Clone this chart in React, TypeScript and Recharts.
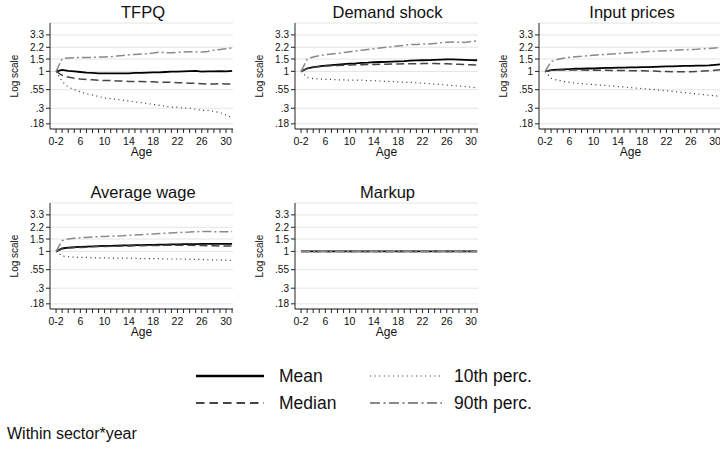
import React from 'react';
import { LineChart, Line, XAxis, YAxis, CartesianGrid, Label } from 'recharts';

const FONT = '"Liberation Sans", Arial, Helvetica, sans-serif';

const AGES = [2, 3, 4, 5, 6, 7, 8, 9, 10, 11, 12, 13, 14, 15, 16, 17, 18, 19, 20, 21, 22, 23, 24, 25, 26, 27, 28, 29, 30, 31];
const LABELED_AGES = [2, 6, 10, 14, 18, 22, 26, 30];
const AGE_LABELS = ['0-2', '6', '10', '14', '18', '22', '26', '30'];
const Y_TICKS = [0.18, 0.3, 0.55, 1, 1.5, 2.2, 3.3];
const Y_TICK_LABELS = ['.18', '.3', '.55', '1', '1.5', '2.2', '3.3'];

const TFPQ_MEAN = [1, 1.05, 1.02, 1.0, 0.98, 0.96, 0.95, 0.94, 0.94, 0.94, 0.94, 0.94, 0.94, 0.95, 0.95, 0.96, 0.97, 0.97, 0.98, 0.99, 0.99, 1.0, 1.01, 1.02, 0.99, 1.0, 1.0, 1.01, 1.0, 1.02];
const TFPQ_MEDIAN = [1, 0.88, 0.83, 0.8, 0.78, 0.77, 0.76, 0.75, 0.74, 0.74, 0.73, 0.73, 0.72, 0.72, 0.72, 0.71, 0.71, 0.7, 0.7, 0.7, 0.69, 0.69, 0.68, 0.68, 0.67, 0.66, 0.66, 0.67, 0.66, 0.66];
const TFPQ_P10 = [1, 0.72, 0.6, 0.55, 0.51, 0.48, 0.46, 0.44, 0.42, 0.41, 0.4, 0.39, 0.38, 0.37, 0.36, 0.35, 0.34, 0.33, 0.32, 0.31, 0.31, 0.3, 0.3, 0.29, 0.28, 0.28, 0.27, 0.26, 0.24, 0.22];
const TFPQ_P90 = [1, 1.52, 1.55, 1.57, 1.57, 1.58, 1.58, 1.6, 1.6, 1.62, 1.65, 1.68, 1.72, 1.74, 1.76, 1.78, 1.82, 1.88, 1.84, 1.84, 1.86, 1.88, 1.9, 1.9, 1.88, 1.92, 2.0, 2.05, 2.1, 2.15];

const DEMAND_MEAN = [1, 1.1, 1.15, 1.18, 1.21, 1.23, 1.25, 1.27, 1.29, 1.3, 1.32, 1.33, 1.35, 1.36, 1.37, 1.38, 1.39, 1.4, 1.42, 1.43, 1.44, 1.45, 1.46, 1.47, 1.48, 1.48, 1.47, 1.46, 1.45, 1.44];
const DEMAND_MEDIAN = [1, 1.1, 1.14, 1.17, 1.19, 1.2, 1.21, 1.22, 1.23, 1.24, 1.24, 1.25, 1.25, 1.26, 1.26, 1.27, 1.27, 1.28, 1.28, 1.28, 1.29, 1.29, 1.29, 1.28, 1.28, 1.27, 1.26, 1.25, 1.24, 1.23];
const DEMAND_P10 = [1, 0.82, 0.79, 0.78, 0.77, 0.77, 0.76, 0.76, 0.75, 0.75, 0.75, 0.74, 0.74, 0.73, 0.72, 0.72, 0.71, 0.7, 0.7, 0.69, 0.68, 0.67, 0.66, 0.65, 0.64, 0.63, 0.62, 0.61, 0.6, 0.58];
const DEMAND_P90 = [1, 1.5, 1.6, 1.67, 1.72, 1.77, 1.8, 1.85, 1.9, 1.95, 2.0, 2.05, 2.1, 2.15, 2.2, 2.25, 2.3, 2.35, 2.4, 2.42, 2.45, 2.45, 2.5, 2.55, 2.6, 2.62, 2.6, 2.58, 2.65, 2.72];

const INPUT_MEAN = [1, 1.04, 1.06, 1.07, 1.08, 1.09, 1.09, 1.1, 1.1, 1.11, 1.12, 1.12, 1.13, 1.13, 1.14, 1.14, 1.15, 1.15, 1.16, 1.17, 1.18, 1.18, 1.19, 1.2, 1.2, 1.21, 1.21, 1.22, 1.24, 1.26];
const INPUT_MEDIAN = [1, 1.04, 1.05, 1.05, 1.05, 1.05, 1.05, 1.04, 1.04, 1.04, 1.04, 1.03, 1.03, 1.03, 1.02, 1.02, 1.02, 1.01, 1.01, 1.0, 1.0, 0.99, 0.99, 0.99, 0.99, 1.0, 1.01, 1.02, 1.04, 1.06];
const INPUT_P10 = [1, 0.8, 0.75, 0.72, 0.7, 0.68, 0.67, 0.66, 0.65, 0.64, 0.63, 0.62, 0.61, 0.6, 0.59, 0.58, 0.57, 0.56, 0.55, 0.54, 0.53, 0.52, 0.51, 0.5, 0.49, 0.48, 0.47, 0.46, 0.45, 0.44];
const INPUT_P90 = [1, 1.38, 1.48, 1.54, 1.58, 1.62, 1.64, 1.67, 1.7, 1.72, 1.75, 1.77, 1.79, 1.82, 1.84, 1.86, 1.89, 1.91, 1.93, 1.95, 1.97, 1.99, 2.01, 2.03, 2.05, 2.07, 2.1, 2.12, 2.15, 2.17];

const WAGE_MEAN = [1, 1.1, 1.13, 1.15, 1.16, 1.17, 1.18, 1.19, 1.2, 1.2, 1.21, 1.22, 1.22, 1.23, 1.23, 1.24, 1.24, 1.25, 1.25, 1.26, 1.26, 1.27, 1.27, 1.27, 1.28, 1.28, 1.28, 1.28, 1.28, 1.28];
const WAGE_MEDIAN = [1, 1.09, 1.12, 1.13, 1.14, 1.15, 1.16, 1.17, 1.17, 1.18, 1.18, 1.19, 1.19, 1.2, 1.2, 1.21, 1.21, 1.21, 1.22, 1.22, 1.22, 1.22, 1.22, 1.21, 1.21, 1.2, 1.2, 1.19, 1.19, 1.19];
const WAGE_P10 = [1, 0.86, 0.84, 0.83, 0.82, 0.82, 0.81, 0.81, 0.81, 0.8, 0.8, 0.8, 0.8, 0.8, 0.79, 0.79, 0.79, 0.79, 0.78, 0.78, 0.78, 0.78, 0.77, 0.77, 0.77, 0.76, 0.76, 0.75, 0.75, 0.74];
const WAGE_P90 = [1, 1.42, 1.5, 1.54, 1.56, 1.58, 1.6, 1.62, 1.63, 1.64, 1.66, 1.67, 1.69, 1.71, 1.73, 1.75, 1.77, 1.79, 1.81, 1.83, 1.85, 1.87, 1.88, 1.9, 1.92, 1.92, 1.91, 1.9, 1.9, 1.92];

const MARKUP_MEAN = [1, 1, 1, 1, 1, 1, 1, 1, 1, 1, 1, 1, 1, 1, 1, 1, 1, 1, 1, 1, 1, 1, 1, 1, 1, 1, 1, 1, 1, 1];
const MARKUP_MEDIAN = [1, 1, 1, 1, 1, 1, 1, 1, 1, 1, 1, 1, 1, 1, 1, 1, 1, 1, 1, 1, 1, 1, 1, 1, 1, 1, 1, 1, 1, 1];
const MARKUP_P10 = [1, 1, 1, 1, 1, 1, 1, 1, 1, 1, 1, 1, 1, 1, 1, 1, 1, 1, 1, 1, 1, 1, 1, 1, 1, 1, 1, 1, 1, 1];
const MARKUP_P90 = [1, 1, 1, 1, 1, 1, 1, 1, 1, 1, 1, 1, 1, 1, 1, 1, 1, 1, 1, 1, 1, 1, 1, 1, 1, 1, 1, 1, 1, 1];

const SERIES = [
  { key: 'mean', name: 'Mean', color: '#000000', width: 1.8, dash: undefined as string | undefined, legendDash: undefined as string | undefined, legendWidth: 2.4 },
  { key: 'median', name: 'Median', color: '#454545', width: 1.5, dash: '8 4', legendDash: '8.5 5', legendWidth: 2.2 },
  { key: 'p10', name: '10th perc.', color: '#303030', width: 1.2, dash: '1 3.5', legendDash: '1 3.6', legendWidth: 1.2 },
  { key: 'p90', name: '90th perc.', color: '#8a8a8a', width: 1.5, dash: '9 3 2 3', legendDash: '10 3.5 2 3.5', legendWidth: 2.2 },
];

const PANELS = [
  { title: 'TFPQ', row: 0, col: 0, mean: TFPQ_MEAN, median: TFPQ_MEDIAN, p10: TFPQ_P10, p90: TFPQ_P90 },
  { title: 'Demand shock', row: 0, col: 1, mean: DEMAND_MEAN, median: DEMAND_MEDIAN, p10: DEMAND_P10, p90: DEMAND_P90 },
  { title: 'Input prices', row: 0, col: 2, mean: INPUT_MEAN, median: INPUT_MEDIAN, p10: INPUT_P10, p90: INPUT_P90 },
  { title: 'Average wage', row: 1, col: 0, mean: WAGE_MEAN, median: WAGE_MEDIAN, p10: WAGE_P10, p90: WAGE_P90 },
  { title: 'Markup', row: 1, col: 1, mean: MARKUP_MEAN, median: MARKUP_MEDIAN, p10: MARKUP_P10, p90: MARKUP_P90 },
];

const PANEL_W = 240;
const PANEL_H = 160;
const COL_STEP = 244.5;
const ROW_STEP = 180;

const XTick = (props: any) => {
  const { x, y, payload } = props;
  const idx = LABELED_AGES.indexOf(payload.value);
  if (idx < 0) return <g />;
  return (
    <text x={x} y={y} dy="0.71em" textAnchor="middle" fontSize={10.5} fill="#111" fontFamily={FONT}>
      {AGE_LABELS[idx]}
    </text>
  );
};

const yFmt = (v: number) => {
  const i = Y_TICKS.indexOf(v);
  return i >= 0 ? Y_TICK_LABELS[i] : String(v);
};

const Panel = ({ p }: { p: any }) => {
  const data = AGES.map((age, i) => ({ age, mean: p.mean[i], median: p.median[i], p10: p.p10[i], p90: p.p90[i] }));
  return (
    <div style={{ position: 'absolute', left: p.col * COL_STEP, top: p.row * ROW_STEP, width: PANEL_W, height: PANEL_H }}>
      <LineChart width={PANEL_W} height={PANEL_H} data={data} margin={{ top: 23, right: 7, bottom: 0, left: 0 }}>
        <CartesianGrid horizontal vertical={false} stroke="#e4e4e4" strokeWidth={1} />
        <XAxis
          type="number"
          dataKey="age"
          domain={[1, 31.15]}
          allowDataOverflow
          ticks={AGES}
          interval={0}
          tickSize={4}
          tickMargin={5}
          height={31}
          tick={<XTick />}
          axisLine={{ stroke: '#222', strokeWidth: 1 }}
          tickLine={{ stroke: '#222', strokeWidth: 1 }}
        >
          <Label value="Age" position="insideBottom" offset={4} fontSize={12} fill="#111" fontFamily={FONT} />
        </XAxis>
        <YAxis
          scale="log"
          type="number"
          domain={[0.152, 4.87]}
          allowDataOverflow
          ticks={Y_TICKS}
          interval={0}
          tickFormatter={yFmt}
          width={50}
          tickSize={4}
          tickMargin={2}
          tick={{ fontSize: 10, fill: '#111', fontFamily: FONT }}
          axisLine={{ stroke: '#222', strokeWidth: 1 }}
          tickLine={{ stroke: '#222', strokeWidth: 1 }}
        >
          <Label value="Log scale" angle={-90} position="insideLeft" offset={14} fontSize={10} fill="#111" fontFamily={FONT} style={{ textAnchor: 'middle' }} />
        </YAxis>
        {SERIES.map((s) => (
          <Line
            key={s.key}
            type="linear"
            dataKey={s.key}
            stroke={s.color}
            strokeWidth={s.width}
            strokeDasharray={s.dash}
            dot={false}
            activeDot={false}
            isAnimationActive={false}
          />
        ))}
      </LineChart>
    </div>
  );
};

const LEGEND_POS = [
  { x1: 196, x2: 264, tx: 279, y: 376 },
  { x1: 196, x2: 264, tx: 279, y: 403 },
  { x1: 370, x2: 442, tx: 454, y: 376 },
  { x1: 370, x2: 442, tx: 454, y: 403 },
];

export default function App() {
  return (
    <div style={{ position: 'absolute', left: 0, top: 0, width: 720, height: 455, background: '#fff', overflow: 'hidden', fontFamily: FONT }}>
      {PANELS.map((p) => (
        <Panel key={p.title} p={p} />
      ))}
      <svg width={720} height={455} style={{ position: 'absolute', left: 0, top: 0, pointerEvents: 'none' }}>
        {PANELS.map((p) => (
          <text key={p.title} x={p.col * COL_STEP + 143} y={p.row * ROW_STEP + 18} textAnchor="middle" fontSize={16.5} fill="#111" fontFamily={FONT}>
            {p.title}
          </text>
        ))}
        {SERIES.map((s, i) => {
          const L = LEGEND_POS[i];
          return (
            <g key={s.key}>
              <line x1={L.x1} x2={L.x2} y1={L.y} y2={L.y} stroke={s.color} strokeWidth={s.legendWidth} strokeDasharray={s.legendDash} />
              <text x={L.tx} y={L.y + 6.3} fontSize={17.5} fill="#111" fontFamily={FONT}>
                {s.name}
              </text>
            </g>
          );
        })}
        <text x={7} y={439} fontSize={16} fill="#111" fontFamily={FONT}>
          Within sector*year
        </text>
      </svg>
    </div>
  );
}
